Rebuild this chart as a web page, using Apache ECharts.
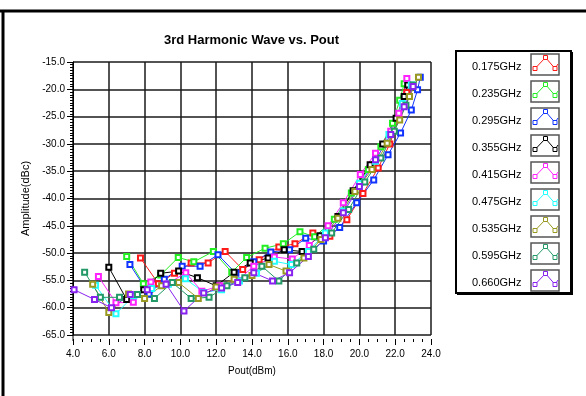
<!DOCTYPE html>
<html><head><meta charset="utf-8">
<script src="https://cdn.jsdelivr.net/npm/echarts/dist/echarts.min.js"></script>
<style>html,body{margin:0;padding:0;background:#fff}#c{width:586px;height:396px}</style>
</head><body><div id="c"></div>
<script>
// ---- data (Pout dBm, Amplitude dBc) ----
const freqLabels = ['0.175GHz','0.235GHz','0.295GHz','0.355GHz','0.415GHz','0.475GHz','0.535GHz','0.595GHz','0.660GHz'];
const colors = ['#ff1a1a','#22ee22','#1133ff','#000000','#ff22ff','#22ffff','#999922','#229966','#8822ee'];

const f175 = [[7.77,-50.9],[8.77,-55.6],[9.67,-53.7],[10.6,-51.8],[11.55,-51.8],[12.5,-49.7],[13.48,-53.0],[14.4,-51.2],[15.5,-48.9],[16.4,-48.3],[17.4,-46.3],[18.35,-46.9],[19.3,-43.9],[20.2,-39.1],[21.05,-34.4],[21.7,-30.0],[22.2,-25.3],[22.65,-20.6]];
const f235 = [[7.0,-50.6],[7.93,-55.6],[8.9,-54.0],[9.88,-50.8],[10.75,-51.6],[11.84,-49.7],[12.87,-53.5],[13.7,-50.8],[14.73,-49.1],[15.75,-48.3],[16.68,-46.1],[17.5,-47.0],[18.6,-43.8],[19.55,-39.0],[20.5,-34.7],[21.2,-30.5],[21.85,-26.2],[22.25,-22.0],[22.5,-19.0]];
const f295 = [[7.18,-52.1],[8.25,-57.5],[9.1,-54.8],[10.1,-52.4],[11.1,-52.4],[12.1,-50.3],[13.1,-53.7],[14.1,-51.6],[15.05,-49.8],[16.1,-49.4],[17.0,-47.3],[18.0,-47.8],[18.9,-45.3],[19.85,-40.8],[20.8,-36.6],[21.6,-32.0],[22.3,-28.0],[22.9,-23.8],[23.25,-20.1],[23.4,-17.8]];
const f355 = [[6.0,-52.6],[7.0,-58.5],[7.95,-56.7],[8.9,-53.7],[9.9,-53.3],[10.95,-54.5],[12.0,-56.0],[13.0,-53.5],[13.9,-51.8],[14.9,-50.9],[15.8,-49.4],[16.8,-49.7],[17.8,-46.8],[18.8,-43.3],[19.65,-38.6],[20.6,-33.8],[21.3,-30.0],[22.05,-25.3],[22.5,-21.3],[22.7,-19.2]];
const f415 = [[5.42,-54.3],[6.4,-59.1],[7.37,-59.0],[8.35,-55.3],[9.3,-55.6],[10.3,-53.6],[11.2,-57.0],[12.2,-56.0],[13.2,-55.0],[14.1,-52.4],[15.25,-50.7],[16.25,-51.1],[17.2,-48.6],[18.25,-45.0],[19.1,-40.8],[20.05,-35.6],[20.9,-31.7],[21.75,-27.7],[22.2,-24.4],[22.65,-18.0]];
const f475 = [[5.26,-55.9],[6.4,-61.1],[7.4,-57.8],[8.4,-56.5],[9.33,-55.7],[10.28,-54.7],[11.3,-57.2],[12.3,-56.7],[13.3,-55.1],[14.25,-53.7],[15.25,-51.5],[16.2,-52.1],[17.15,-49.7],[18.1,-46.3],[19.1,-42.3],[20.0,-37.2],[20.9,-33.2],[21.65,-28.3],[22.4,-22.6],[22.9,-19.2]];
const f535 = [[5.1,-55.7],[6.0,-60.9],[7.1,-57.5],[8.0,-58.3],[8.95,-56.0],[9.9,-55.4],[11.0,-58.3],[12.0,-56.2],[13.0,-54.8],[14.0,-54.1],[14.95,-52.1],[15.9,-53.3],[16.9,-50.9],[17.85,-47.5],[18.8,-43.6],[19.75,-38.7],[20.7,-34.7],[21.55,-29.9],[22.25,-25.6],[22.8,-21.3],[23.3,-17.8]];
const f595 = [[4.65,-53.5],[5.53,-58.1],[6.6,-58.1],[7.6,-57.6],[8.55,-58.3],[9.55,-55.4],[10.6,-58.3],[11.6,-58.1],[12.6,-56.0],[13.6,-54.5],[14.55,-52.4],[15.5,-55.1],[16.5,-51.8],[17.45,-49.3],[18.45,-46.3],[19.4,-42.0],[20.3,-37.0],[21.2,-32.6],[21.95,-27.7],[22.6,-22.9],[23.0,-19.2]];
const f660 = [[4.06,-56.7],[5.2,-58.5],[6.15,-60.0],[7.2,-57.6],[8.15,-56.7],[9.2,-55.7],[10.2,-60.6],[11.3,-57.3],[12.3,-56.4],[13.2,-55.4],[14.1,-53.6],[15.15,-55.1],[16.1,-53.6],[17.15,-50.6],[18.1,-47.2],[19.1,-42.6],[20.0,-37.8],[20.9,-32.9],[21.75,-28.3],[22.5,-23.2],[23.0,-19.5]];
const seriesData = [f175, f235, f295, f355, f415, f475, f535, f595, f660];

const xRange = [4, 24, 2];     // min, max, step (dBm)
const yRange = [-65, -15, 5];  // min, max, step (dBc)

const FONT = '"Liberation Sans", Arial, sans-serif';
const chart = echarts.init(document.getElementById('c'), null, {renderer: 'canvas'});

const graphics = [
  {type:'line', shape:{x1:0,y1:11,x2:586,y2:11}, style:{stroke:'#000',lineWidth:3}, silent:true},
  {type:'line', shape:{x1:3,y1:11,x2:3,y2:396}, style:{stroke:'#000',lineWidth:3}, silent:true},
  {type:'line', shape:{x1:73,y1:335,x2:73,y2:341}, style:{stroke:'#000',lineWidth:1}, silent:true},
  {type:'rect', shape:{x:456,y:51,width:115,height:242}, style:{fill:'none',stroke:'#000',lineWidth:2}, silent:true},
  {type:'line', shape:{x1:572,y1:52,x2:572,y2:295}, style:{stroke:'#000',lineWidth:2}, silent:true},
  {type:'line', shape:{x1:457,y1:294,x2:573,y2:294}, style:{stroke:'#000',lineWidth:2}, silent:true}
];
// legend swatches (frame + mini glyph in each series colour)
freqLabels.forEach((n, i) => {
  const y0 = 54 + i * 27;
  const c = colors[i];
  graphics.push({type:'rect', shape:{x:531, y:y0, width:28, height:21},
    style:{fill:'#fff', stroke:'#555', lineWidth:1.5}, silent:true, z:10});
  graphics.push({type:'polyline', shape:{points:[[535,y0+14.5],[545.5,y0+3.5],[555,y0+14.5],[558,y0+10]]},
    style:{fill:'none', stroke:c, lineWidth:1}, silent:true, z:11});
  [[535,y0+14.5],[545.5,y0+3.5],[555,y0+14.5]].forEach(p => {
    graphics.push({type:'rect', shape:{x:p[0]-2, y:p[1]-2, width:4, height:4},
      style:{fill:'#fff', stroke:c, lineWidth:1}, silent:true, z:12});
  });
});

chart.setOption({
  animation: false,
  backgroundColor: '#fff',
  title: {
    text: '3rd Harmonic Wave vs. Pout',
    left: 159, top: 29,
    textStyle: {fontSize: 13, fontWeight: 'bold', color: '#000', fontFamily: FONT}
  },
  grid: {left: 73, right: 155, top: 62, bottom: 61, containLabel: false},
  legend: {
    orient: 'vertical', left: 461, top: 51,
    itemWidth: 1, itemHeight: 21, itemGap: 6,
    selectedMode: false,
    icon: 'rect',
    itemStyle: {opacity: 0},
    lineStyle: {opacity: 0},
    textStyle: {fontSize: 11, color: '#000', fontFamily: FONT},
    data: freqLabels
  },
  xAxis: {
    type: 'value', min: xRange[0], max: xRange[1], interval: xRange[2],
    offset: 4,
    name: 'Pout(dBm)', nameLocation: 'middle', nameGap: 27,
    nameTextStyle: {fontSize: 10, color: '#000', fontFamily: FONT},
    axisLine: {show: false},
    axisTick: {show: true, length: 6, lineStyle: {color: '#000'}},
    minorTick: {show: true, splitNumber: 4, length: 3, lineStyle: {color: '#000'}},
    axisLabel: {fontSize: 10, color: '#000', fontFamily: FONT, margin: 10, formatter: v => v.toFixed(1)},
    splitLine: {show: true, lineStyle: {color: '#1a1a1a', width: 1.5}}
  },
  yAxis: {
    type: 'value', min: yRange[0], max: yRange[1], interval: yRange[2],
    name: 'Amplitude(dBc)', nameLocation: 'middle', nameGap: 33, nameRotate: 90,
    nameTextStyle: {fontSize: 11, color: '#000', fontFamily: FONT},
    axisLine: {show: true, lineStyle: {color: '#000', width: 1}},
    axisTick: {show: true, length: 6, lineStyle: {color: '#000'}},
    minorTick: {show: true, splitNumber: 10, length: 3, lineStyle: {color: '#000'}},
    axisLabel: {fontSize: 10, color: '#000', fontFamily: FONT, margin: 8, formatter: v => v.toFixed(1)},
    splitLine: {show: true, lineStyle: {color: '#1a1a1a', width: 1.5}}
  },
  series: seriesData.map((d, i) => ({
    name: freqLabels[i], type: 'line', data: d,
    symbol: 'emptyRect', symbolSize: 5, showSymbol: true,
    lineStyle: {width: 1, color: colors[i]},
    itemStyle: {color: colors[i], borderWidth: 1},
    emphasis: {disabled: true}
  })),
  graphic: graphics
});
</script>
</body></html>
